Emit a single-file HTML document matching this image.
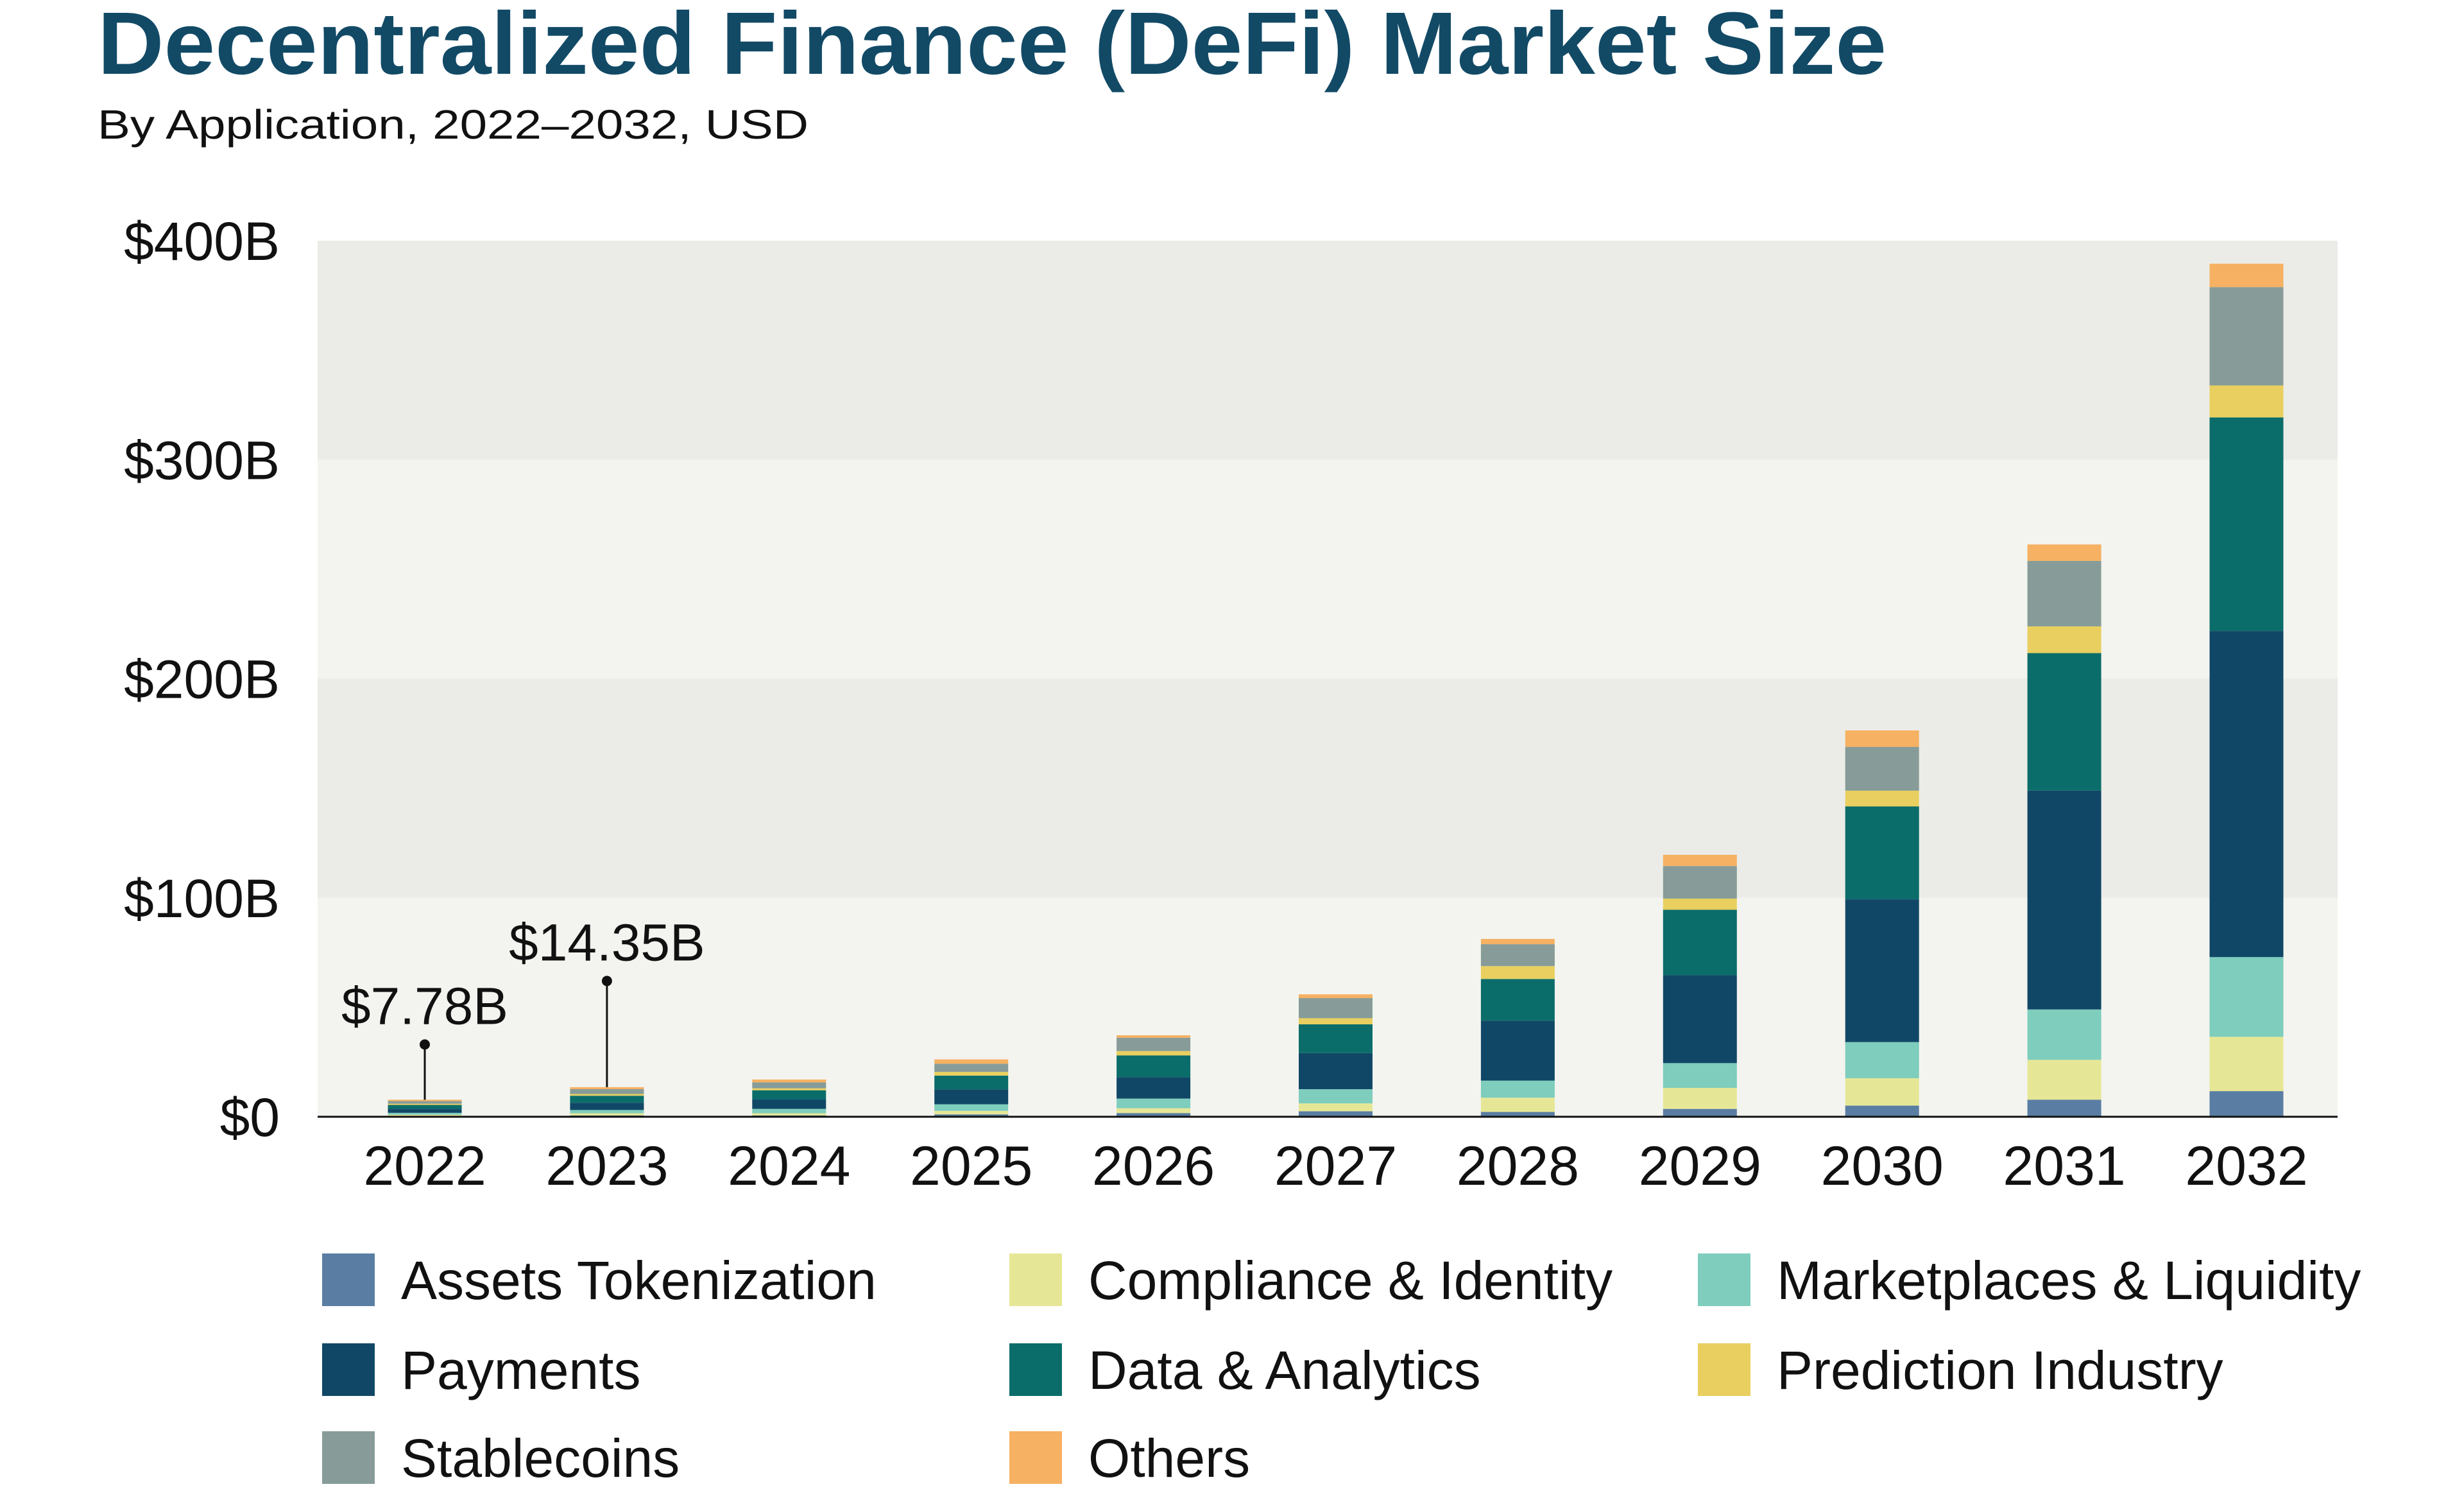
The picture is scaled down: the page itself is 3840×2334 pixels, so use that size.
<!DOCTYPE html>
<html><head><meta charset="utf-8">
<style>
html,body{margin:0;padding:0;background:#fff;}
svg{display:block;font-family:"Liberation Sans",sans-serif;}
</style></head>
<body>
<svg id="chart" width="3840" height="2334" viewBox="0 0 3840 2334" xmlns="http://www.w3.org/2000/svg">
<text x="152" y="115" font-size="138" font-weight="bold" fill="#124a66" textLength="2788" lengthAdjust="spacingAndGlyphs">Decentralized Finance (DeFi) Market Size</text>
<text x="152" y="216" font-size="64" fill="#111" textLength="1108" lengthAdjust="spacingAndGlyphs">By Application, 2022–2032, USD</text>
<g id="bands"></g>
<g id="bars"></g>
<g id="axes"></g>
<g id="legend"></g>
</svg>
<script>
const years = ["2022","2023","2024","2025","2026","2027","2028","2029","2030","2031","2032"];
const seriesNames = ["Assets Tokenization","Compliance & Identity","Marketplaces & Liquidity","Payments","Data & Analytics","Prediction Industry","Stablecoins","Others"];
const assetsTokenization = [0.35,0.6,0.6,1.1,1.7,2.5,2.2,3.6,5.1,7.8,11.7];
const complianceIdentity = [0.55,1.0,1.0,1.6,2.2,3.6,6.5,9.6,12.5,18.2,24.8];
const marketplacesLiquidity = [0.9,1.5,2.0,3.0,4.4,6.5,7.8,11.3,16.5,23.0,36.4];
const payments = [1.7,3.3,4.3,6.8,9.7,16.5,27.4,40.1,65.2,99.9,148.9];
const dataAnalytics = [1.9,3.2,4.2,6.3,10.0,13.1,19.0,29.9,42.4,62.8,97.5];
const predictionIndustry = [0.55,0.8,0.9,1.7,2.0,2.8,5.9,5.1,7.2,12.2,14.6];
const stablecoins = [1.2,2.2,2.7,3.7,6.1,9.2,10.0,14.9,20.0,29.9,44.9];
const others = [0.63,0.9,1.3,2.0,1.1,1.7,2.4,5.1,7.5,7.5,10.7];
const yTicks = [0,100,200,300,400];
const yTickLabels = ["$0","$100B","$200B","$300B","$400B"];
const annotations = [{year:"2022",label:"$7.78B",value:33},{year:"2023",label:"$14.35B",value:62}];

const series = [assetsTokenization,complianceIdentity,marketplacesLiquidity,payments,dataAnalytics,predictionIndustry,stablecoins,others];
const colors = ["#5a7ea3","#e6e796","#7ecdbd","#114766","#0b6d6a","#e8cf5f","#879c98","#f6b162"];
const NS = "http://www.w3.org/2000/svg";
const plotL=495, plotR=3643, baseY=1740, pxPer=3.4125;
const y = v => baseY - v*pxPer;
const x0 = 662, step = 283.9, barW = 115;
const xc = i => x0 + i*step;
function mk(tag, attrs, parent){const e=document.createElementNS(NS,tag);for(const k in attrs)e.setAttribute(k,attrs[k]);parent.appendChild(e);return e;}

const bands=document.getElementById('bands');
for(let i=0;i<yTicks.length-1;i++){
  const r=mk('rect',{x:plotL,y:y(yTicks[i+1]),width:plotR-plotL,height:y(yTicks[i])-y(yTicks[i+1]),fill:i%2===0?'#f3f4ef':'#ebece7'},bands);
  
  
}
const axes=document.getElementById('axes');
yTicks.forEach((t,i)=>{
  const tx=mk('text',{x:436,y:y(t)+30,'font-size':84,'text-anchor':'end',fill:'#111'},axes);
  tx.textContent=yTickLabels[i];
  
  
});
const base=mk('line',{x1:plotL,x2:plotR,y1:baseY,y2:baseY,stroke:'#111','stroke-width':3},axes);


years.forEach((yr,i)=>{
  const tx=mk('text',{x:xc(i),y:1846,'font-size':86,'text-anchor':'middle',fill:'#111'},axes);
  tx.textContent=yr;
  
  
});

const bars=document.getElementById('bars');
years.forEach((yr,i)=>{
  let cum=0;
  series.forEach((s,k)=>{
    const v=s[i];
    const r=mk('rect',{x:xc(i)-barW/2,y:y(cum+v),width:barW,height:Math.max(0,y(cum)-y(cum+v)),fill:colors[k]},bars);
    
    
    cum+=v;
  });
});
annotations.forEach(a=>{
  const i=years.indexOf(a.year);
  let tot=0; series.forEach(s=>tot+=s[i]);
  const ln=mk('line',{x1:xc(i),x2:xc(i),y1:y(a.value),y2:y(tot),stroke:'#111','stroke-width':3},bars);
  
  
  const d=mk('circle',{cx:xc(i),cy:y(a.value),r:8,fill:'#111'},bars);
  
  
  const t=mk('text',{x:xc(i),y:y(a.value)-32,'font-size':82,'text-anchor':'middle',fill:'#111'},bars);
  t.textContent=a.label;
  
  
});

const legend=document.getElementById('legend');
const colX=[502,1573,2646], rowY=[1994,2134,2271];
seriesNames.forEach((n,k)=>{
  const c=k%3, r=Math.floor(k/3);
  const g=mk('g',{},legend);
  
  
  const sw=mk('rect',{x:colX[c],y:rowY[r]-41,width:82,height:82,fill:colors[k]},g);
  
  
  const t=mk('text',{x:colX[c]+123,y:rowY[r]+30,'font-size':84,fill:'#111'},g);
  t.textContent=n;
  
  
});
</script>
</body></html>
